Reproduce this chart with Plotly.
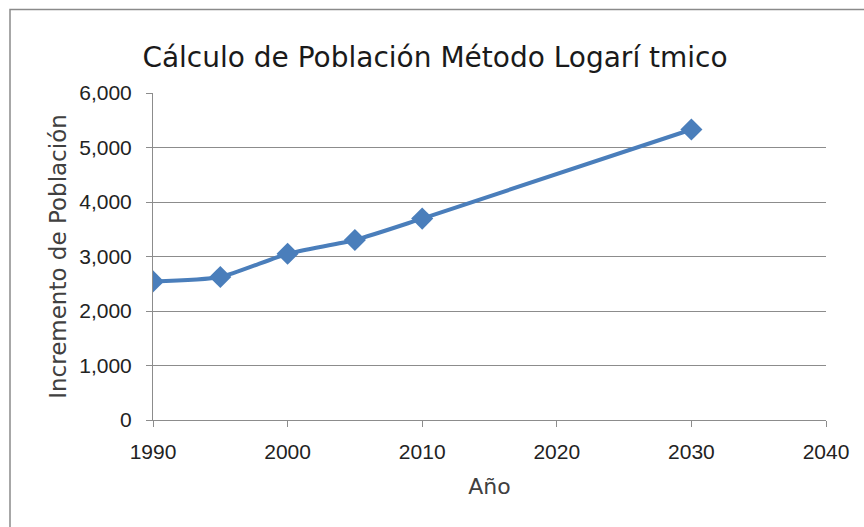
import plotly.graph_objects as go

years = [1990, 1995, 2000, 2005, 2010, 2030]
population = [2543, 2624, 3050, 3303, 3695, 5330]
title_text = "Cálculo de Población Método Logarí tmico"
x_title = "Año"
y_title = "Incremento de Población"

W, H = 864, 527
L, R, T, B = 153, 38, 93, 107
pw, ph = W - L - R, H - T - B

def px_x(p):
    return (p - L) / pw

def px_y(p):
    return (H - B - p) / ph

fig = go.Figure()
fig.add_trace(go.Scatter(
    x=years, y=population, mode="lines+markers",
    line=dict(color="#4a7ebb", width=4, shape="spline", smoothing=0.6),
    marker=dict(symbol="diamond", size=17, color="#4a7ebb"),
    showlegend=False, hoverinfo="x+y",
))

grid = "#8c8c8c"
fig.update_layout(
    width=W, height=H,
    margin=dict(l=L, r=R, t=T, b=B),
    paper_bgcolor="white", plot_bgcolor="white",
    font=dict(family="Liberation Sans, Arial, sans-serif", color="#222"),
    title=dict(text=title_text, x=435 / W, xanchor="center", y=1 - 57 / H, yanchor="middle",
               font=dict(family="DejaVu Sans, sans-serif", size=28, color="#1a1a1a")),
    xaxis=dict(range=[1990, 2040], tickvals=[1990, 2000, 2010, 2020, 2030, 2040],
               showgrid=False, zeroline=False, showline=True, linecolor=grid, linewidth=1,
               ticks="outside", ticklen=6, tickcolor=grid, ticklabelstandoff=7,
               tickfont=dict(size=21, color="#222"),
               title=dict(text=x_title, font=dict(family="DejaVu Sans, sans-serif", size=22, color="#404040"), standoff=16)),
    yaxis=dict(range=[0, 6000], tickvals=[0, 1000, 2000, 3000, 4000, 5000, 6000],
               tickformat=",d", showgrid=True, gridcolor=grid, gridwidth=1,
               zeroline=False, showline=True, linecolor=grid, linewidth=1,
               ticks="outside", ticklen=6, tickcolor=grid, ticklabelstandoff=10,
               tickfont=dict(size=21, color="#222"),
               title=dict(text=y_title, font=dict(family="DejaVu Sans, sans-serif", size=23, color="#404040"), standoff=6)),
)

# outer chart-area border (left and top edges visible)
fig.add_shape(type="path", xref="paper", yref="paper",
              path=f"M {px_x(10)} {px_y(540)} L {px_x(10)} {px_y(9.5)} L {px_x(880)} {px_y(9.5)}",
              line=dict(color="#8a8a8a", width=1.5))

fig.write_html("out.html", config={"displayModeBar": False},
               post_script="document.body.style.margin='0';document.body.style.overflow='hidden';")
